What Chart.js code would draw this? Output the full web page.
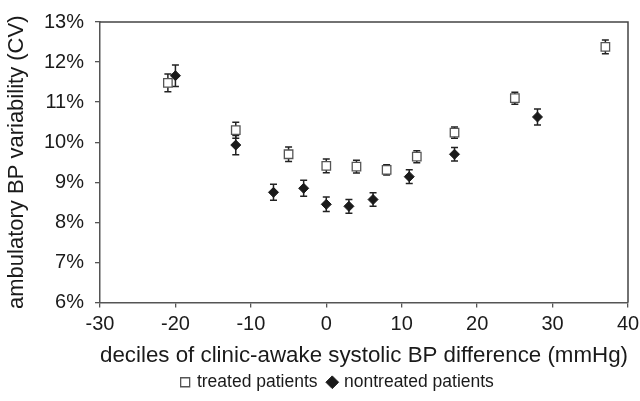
<!DOCTYPE html>
<html>
<head>
<meta charset="utf-8">
<script src="https://cdn.jsdelivr.net/npm/chart.js@4.4.1/dist/chart.umd.min.js"></script>
<style>
  html, body { margin: 0; padding: 0; background: #fff; }
  #wrap { width: 640px; height: 401px; }
</style>
</head>
<body>
<div id="wrap"><canvas id="cvChart"></canvas></div>
<script>
// deciles of clinic-awake systolic BP difference (mmHg) and CV (%) with error bars
const treatedX = [-21, -12, -5, 0, 4, 8, 12, 17, 25, 37];
const treatedCV = [11.48, 10.3, 9.7, 9.41, 9.39, 9.31, 9.64, 10.24, 11.1, 12.38];
const treatedErr = [0.22, 0.2, 0.18, 0.17, 0.16, 0.13, 0.15, 0.14, 0.15, 0.17];

const nontreatedX = [-20, -12, -7, -3, 0, 3, 6.2, 11, 17, 28];
const nontreatedCV = [11.66, 9.93, 8.75, 8.85, 8.45, 8.4, 8.57, 9.14, 9.7, 10.63];
const nontreatedErr = [0.27, 0.24, 0.2, 0.2, 0.18, 0.17, 0.17, 0.17, 0.17, 0.2];

const xTicks = [-30, -20, -10, 0, 10, 20, 30, 40];
const yTicks = [6, 7, 8, 9, 10, 11, 12, 13];

const FONT = "'Liberation Sans', Arial, sans-serif";

function toPoints(xs, ys) {
    return xs.map((x, i) => ({ x: x, y: ys[i] }));
}

// error bars drawn under the markers, plus the top/right frame lines
const errorBars = {
    id: "errorBars",
    afterLayout(chart) {
        // legend sits a bit right of the canvas centre in the original
        chart.legend.left += 24;
        chart.legend.right += 24;
    },
    beforeDatasetsDraw(chart) {
        const ctx = chart.ctx;
        const xs = chart.scales.x, ys = chart.scales.y;
        const errs = [treatedErr, nontreatedErr];
        ctx.save();
        ctx.strokeStyle = "#222";
        ctx.lineWidth = 1.5;
        chart.data.datasets.forEach((ds, d) => {
            ds.data.forEach((p, i) => {
                const px = xs.getPixelForValue(p.x);
                const top = ys.getPixelForValue(p.y + errs[d][i]);
                const bot = ys.getPixelForValue(p.y - errs[d][i]);
                ctx.beginPath();
                ctx.moveTo(px, top); ctx.lineTo(px, bot);
                ctx.moveTo(px - 3.5, top); ctx.lineTo(px + 3.5, top);
                ctx.moveTo(px - 3.5, bot); ctx.lineTo(px + 3.5, bot);
                ctx.stroke();
            });
        });
        const a = chart.chartArea;
        ctx.strokeStyle = "#444";
        ctx.lineWidth = 1.5;
        ctx.beginPath();
        ctx.moveTo(a.left, a.top); ctx.lineTo(a.right, a.top); ctx.lineTo(a.right, a.bottom);
        ctx.stroke();
        ctx.restore();
    }
};

const ctx = document.getElementById("cvChart");
new Chart(ctx, {
    type: "scatter",
    data: {
        datasets: [
            {
                label: "treated patients",
                data: toPoints(treatedX, treatedCV),
                pointStyle: "rect",
                pointRadius: 6,
                pointHoverRadius: 6,
                backgroundColor: "#fff",
                borderColor: "#555",
                borderWidth: 1.3
            },
            {
                label: "nontreated patients",
                data: toPoints(nontreatedX, nontreatedCV),
                pointStyle: "rectRot",
                pointRadius: 5,
                pointHoverRadius: 5,
                backgroundColor: "#1a1a1a",
                borderColor: "#1a1a1a",
                borderWidth: 1
            }
        ]
    },
    options: {
        responsive: true,
        maintainAspectRatio: false,
        animation: false,
        layout: { padding: { top: 22, right: 12, left: 0, bottom: 0 } },
        scales: {
            x: {
                type: "linear",
                min: -30, max: 40,
                afterBuildTicks: s => { s.ticks = xTicks.map(v => ({ value: v })); },
                afterFit: s => { s.height = 69; s.paddingLeft = 0; s.paddingRight = 0; },
                grid: { drawOnChartArea: false, drawTicks: true, tickLength: 5, color: "#555", lineWidth: 1.3 },
                border: { display: true, color: "#555", width: 1.5 },
                ticks: { color: "#1a1a1a", font: { family: FONT, size: 20 }, padding: 5, maxRotation: 0 },
                title: {
                    display: true,
                    text: "deciles of clinic-awake systolic BP difference (mmHg)",
                    color: "#1a1a1a",
                    font: { family: FONT, size: 22.5 },
                    padding: { top: 2, bottom: 2 }
                }
            },
            y: {
                min: 6, max: 13,
                afterBuildTicks: s => { s.ticks = yTicks.map(v => ({ value: v })); },
                afterFit: s => { s.width = 100; s.paddingTop = 0; s.paddingBottom = 0; },
                grid: { drawOnChartArea: false, drawTicks: true, tickLength: 5, color: "#555", lineWidth: 1.3 },
                border: { display: true, color: "#555", width: 1.5 },
                ticks: { color: "#1a1a1a", font: { family: FONT, size: 20 }, padding: 11, callback: v => v + "%" },
                title: {
                    display: true,
                    text: "ambulatory BP variability (CV)",
                    color: "#1a1a1a",
                    font: { family: FONT, size: 22 },
                    padding: { top: 4, bottom: 2 }
                }
            }
        },
        plugins: {
            legend: {
                position: "bottom",
                labels: {
                    usePointStyle: true,
                    boxWidth: 6,
                    boxHeight: 9,
                    padding: 2,
                    color: "#1a1a1a",
                    font: { family: FONT, size: 17.5 },
                    generateLabels: chart => {
                        const items = Chart.defaults.plugins.legend.labels.generateLabels(chart);
                        items[0].text += "  ";
                        return items;
                    }
                }
            },
            tooltip: { enabled: false }
        }
    },
    plugins: [errorBars]
});
</script>
</body>
</html>
